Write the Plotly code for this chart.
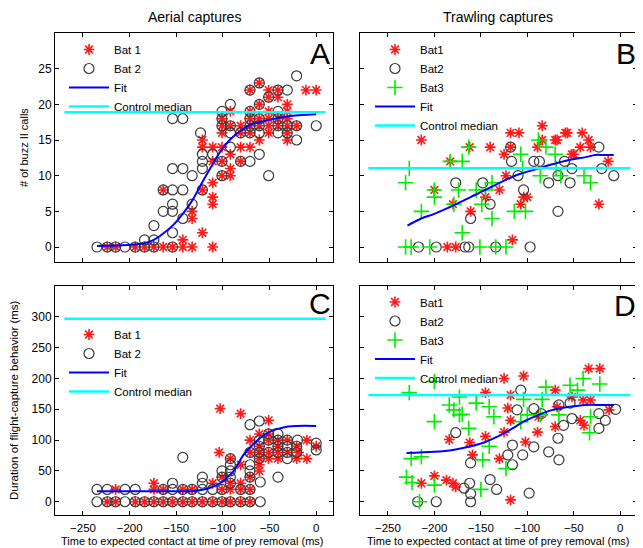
import plotly.graph_objects as go

# ---------------- data ----------------
x_ticks = [-250, -200, -150, -100, -50, 0]
y_ticks_calls = [0, 5, 10, 15, 20, 25]
y_ticks_dur = [0, 50, 100, 150, 200, 250, 300]

# Panel A (aerial, # of buzz II calls)
a_bat1 = [(-224, 0), (-215, 0), (-194, 0), (-184, 0), (-174, 0), (-164, 0), (-154, 0), (-143, 0), (-133, 0), (-111, 0),
          (-143, 1), (-122, 2), (-133, 4), (-133, 5), (-111, 6), (-111, 7), (-164, 8), (-122, 8), (-111, 9),
          (-101, 10), (-92, 10), (-92, 11), (-111, 12), (-101, 12), (-81, 12), (-92, 13),
          (-122, 14), (-111, 14), (-101, 14), (-81, 14), (-71, 14), (-122, 15), (-61, 15), (-31, 15),
          (-101, 16), (-81, 16), (-71, 16), (-51, 16), (-31, 16),
          (-101, 17), (-92, 17), (-81, 17), (-71, 17), (-61, 17), (-51, 17), (-41, 17), (-31, 17), (-21, 17),
          (-101, 18), (-71, 18), (-61, 18), (-51, 18), (-41, 18), (-31, 18),
          (-92, 19), (-71, 19), (-51, 19), (-31, 19), (-61, 20), (-31, 20), (-51, 21), (-41, 21),
          (-71, 22), (-51, 22), (-41, 22), (-11, 22), (0, 22), (-61, 23)]
a_bat2 = [(-235, 0), (-224, 0), (-215, 0), (-205, 0), (-194, 0), (-184, 0), (-174, 0), (-154, 0),
          (-184, 1), (-174, 1), (-154, 2), (-174, 3), (-143, 4), (-164, 5), (-154, 5), (-154, 6), (-133, 6),
          (-164, 8), (-154, 8), (-143, 8), (-122, 8), (-133, 10), (-101, 10), (-51, 10),
          (-154, 11), (-143, 11), (-122, 11), (-122, 12), (-101, 12), (-81, 12), (-71, 12),
          (-122, 13), (-111, 13), (-61, 13), (-92, 14), (-21, 15),
          (-124, 16), (-92, 16), (-81, 16), (-71, 16), (-61, 16), (-41, 16), (-31, 16),
          (-101, 17), (-92, 17), (-71, 17), (-61, 17), (-41, 17), (-31, 17), (-21, 17), (0, 17),
          (-154, 18), (-143, 18), (-101, 18), (-71, 18), (-61, 18), (-41, 18),
          (-101, 19), (-71, 19), (-41, 19), (-92, 20), (-61, 20), (-51, 21),
          (-71, 22), (-41, 22), (-31, 22), (-61, 23), (-21, 24)]
a_fit = [(-235, 0.15), (-215, 0.2), (-194, 0.35), (-184, 0.55), (-174, 1.0), (-164, 1.9), (-154, 3.0),
         (-143, 4.65), (-133, 6.5), (-122, 9.1), (-111, 11.6), (-101, 13.7), (-92, 15.1), (-81, 16.3),
         (-71, 17.1), (-51, 17.8), (-31, 18.3), (0, 18.6)]
a_median = [(-270, 18.9), (10, 18.9)]

# Panel B (trawling, # of buzz II calls)
b_bat1 = [(-214, 15), (-200, 8), (-186, 0), (-177, 0), (-180, 6), (-183, 12), (-162, 14), (-161, 5), (-145, 7),
          (-140, 14), (-130, 8), (-125, 13), (-123, 10), (-118, 14), (-118, 16), (-116, 1), (-109, 16), (-107, 6),
          (-104, 7), (-100, 7), (-89, 14), (-84, 17), (-84, 15), (-70, 15), (-68, 15), (-59, 16), (-57, 16),
          (-52, 13), (-50, 13), (-43, 14), (-41, 16), (-34, 15), (-32, 14), (-23, 6), (-13, 12)]
b_bat2 = [(-217, 0), (-198, 0), (-167, 0), (-163, 0), (-134, 0), (-97, 0), (-177, 9), (-161, 4), (-148, 9),
          (-140, 6), (-118, 14), (-117, 12), (-110, 10), (-104, 8), (-93, 12), (-87, 12), (-77, 9), (-67, 10),
          (-67, 5), (-60, 12), (-54, 9), (-52, 11), (-23, 14), (-20, 11), (-7, 10)]
b_bat3 = [(-231, 9), (-227, 11), (-214, 5), (-200, 7), (-200, 8), (-183, 12), (-170, 12), (-163, 14), (-174, 8),
          (-179, 6), (-170, 2), (-155, 8), (-149, 6), (-145, 8), (-138, 9), (-138, 4), (-114, 5), (-102, 5),
          (-107, 13), (-105, 11), (-88, 15), (-86, 10), (-80, 14), (-70, 13), (-69, 11), (-64, 10), (-39, 10),
          (-32, 9), (-231, 0), (-225, 0), (-205, 0), (-151, 0), (-134, 0), (-123, 0)]
b_fit = [(-229, 3.0), (-214, 4.0), (-200, 4.65), (-180, 5.8), (-161, 7.0), (-145, 8.0), (-125, 9.3),
         (-109, 10.2), (-91, 10.9), (-73, 11.6), (-55, 12.2), (-37, 12.6), (-27, 12.9), (-18, 12.9), (-7, 12.9)]
b_median = [(-271, 11.05), (11, 11.05)]

# Panel C (aerial, duration)
c_bat1 = [(-224, 0), (-215, 0), (-194, 0), (-184, 0), (-174, 0), (-164, 0), (-154, 0), (-143, 0), (-133, 0),
          (-122, 0), (-111, 0), (-101, 0), (-92, 0), (-81, 0), (-71, 0),
          (-215, 20), (-174, 20), (-164, 20), (-143, 20), (-133, 20), (-101, 20), (-92, 20), (-81, 20), (-71, 20),
          (-174, 30), (-111, 30), (-92, 30), (-81, 30), (-101, 40), (-71, 40), (-61, 50), (-81, 60), (-61, 60),
          (-92, 70), (-61, 70), (-51, 70), (-41, 70), (-21, 70), (-10, 70),
          (-104, 80), (-71, 80), (-61, 80), (-51, 80), (-41, 80), (-31, 80), (-19, 80),
          (-61, 90), (-41, 90), (-21, 90), (0, 90), (-71, 100), (-51, 100), (-41, 100), (-31, 100), (-10, 100),
          (-61, 110), (-51, 110), (-51, 132), (-81, 143), (-103, 151)]
c_bat2 = [(-235, 0), (-224, 0), (-215, 0), (-205, 0), (-194, 0), (-184, 0), (-174, 0), (-164, 0), (-154, 0),
          (-143, 0), (-133, 0), (-122, 0), (-111, 0), (-101, 0), (-92, 0), (-81, 0), (-71, 0), (-60, 0),
          (-235, 20), (-224, 20), (-205, 20), (-194, 20), (-164, 20), (-154, 20), (-143, 20), (-133, 20),
          (-122, 20), (-111, 20), (-101, 20), (-81, 20), (-71, 20),
          (-154, 30), (-122, 30), (-92, 30), (-60, 32), (-122, 40), (-101, 40), (-92, 40), (-71, 40), (-41, 40),
          (-101, 50), (-92, 50), (-71, 50), (-92, 60), (-71, 60), (-143, 72), (-92, 70), (-61, 70), (-31, 70),
          (-71, 80), (-61, 80), (-51, 80), (-41, 80), (-31, 80), (-21, 80), (0, 84),
          (-61, 90), (-41, 90), (-31, 90), (-21, 90), (0, 95),
          (-61, 100), (-51, 100), (-41, 100), (-31, 100), (-20, 100), (-51, 110), (-41, 110),
          (-71, 125), (-61, 131)]
c_fit = [(-235, 17), (-200, 17), (-160, 17), (-130, 17.5), (-124, 19), (-115, 22), (-103, 30), (-95, 40),
         (-89, 49), (-85, 58), (-78, 76), (-71, 88), (-65, 97), (-58, 106), (-53, 111), (-45, 117),
         (-39, 119), (-30, 122), (-21, 123), (0, 123)]
c_median = [(-270, 297), (10, 297)]

# Panel D (trawling, duration)
d_bat1 = [(-214, 30), (-200, 42), (-187, 35), (-180, 30), (-177, 24), (-184, 101), (-162, 96), (-159, 76),
          (-145, 177), (-145, 106), (-130, 70), (-125, 200), (-125, 113), (-118, 3), (-118, 173), (-118, 132),
          (-121, 152), (-104, 204), (-102, 97), (-89, 113), (-88, 138), (-70, 181), (-70, 122), (-68, 154),
          (-52, 170), (-43, 132), (-39, 124), (-40, 165), (-32, 165), (-34, 216), (-22, 216), (-12, 149)]
d_bat2 = [(-218, 0), (-198, 0), (-177, 112), (-161, 63), (-168, 22), (-162, 30), (-161, 0), (-161, 13),
          (-140, 36), (-133, 20), (-121, 76), (-116, 92), (-116, 60), (-105, 76), (-107, 181), (-111, 149),
          (-98, 14), (-93, 151), (-93, 89), (-85, 143), (-77, 81), (-67, 103), (-66, 68), (-66, 157),
          (-61, 124), (-54, 160), (-52, 135), (-23, 143), (-23, 119), (-16, 132), (-5, 150)]
d_bat3 = [(-227, 177), (-230, 40), (-224, 31), (-225, 70), (-214, 73), (-216, 0), (-200, 195), (-200, 130),
          (-200, 27), (-184, 157), (-179, 149), (-173, 141), (-173, 170), (-170, 142), (-163, 119), (-155, 160),
          (-150, 20), (-148, 68), (-141, 154), (-141, 90), (-136, 138), (-123, 54), (-107, 130), (-104, 166),
          (-100, 141), (-86, 141), (-84, 166), (-80, 186), (-66, 141), (-54, 189), (-46, 181), (-40, 200),
          (-33, 112), (-32, 138), (-22, 191)]
d_fit = [(-230, 79), (-200, 81), (-180, 84), (-161, 90), (-145, 97), (-129, 108), (-116, 119), (-104, 130),
         (-91, 139), (-73, 149), (-55, 154), (-37, 157), (-20, 157), (-7, 157)]
d_median = [(-271, 173), (11, 173)]

# ---------------- styling ----------------
FONT = "Arial, Liberation Sans, sans-serif"
OFF = 8                     # page body margin of the browser
W, H = 643 - OFF, 548 - OFF
RED = "#ff1a1a"
GREY = "#3a3a3a"
GREEN = "#00ee00"
BLUE = "#0000ff"
CYAN = "#00ffff"


def px_x(p):
    return (p - OFF) / W


def px_y(p):
    return 1 - (p - OFF) / H


fig = go.Figure()


def xy(pts):
    return [p[0] for p in pts], [p[1] for p in pts]


def add_panel(idx, legend, bat1, bat2, bat3, fit, median, names):
    xa = "x" if idx == 1 else f"x{idx}"
    ya = "y" if idx == 1 else f"y{idx}"
    x, y = xy(bat1)
    fig.add_trace(go.Scatter(x=x, y=y, mode="markers", name=names[0], xaxis=xa, yaxis=ya, legend=legend,
                             marker=dict(symbol="asterisk-open", size=9, color=RED, line=dict(color=RED, width=1.6))))
    x, y = xy(bat2)
    fig.add_trace(go.Scatter(x=x, y=y, mode="markers", name=names[1], xaxis=xa, yaxis=ya, legend=legend,
                             marker=dict(symbol="circle-open", size=10, color=GREY, line=dict(color=GREY, width=1.2))))
    if bat3 is not None:
        x, y = xy(bat3)
        fig.add_trace(go.Scatter(x=x, y=y, mode="markers", name=names[2], xaxis=xa, yaxis=ya, legend=legend,
                                 marker=dict(symbol="cross-thin-open", size=11, color=GREEN,
                                             line=dict(color=GREEN, width=1.6))))
    x, y = xy(fit)
    fig.add_trace(go.Scatter(x=x, y=y, mode="lines", name="Fit", xaxis=xa, yaxis=ya, legend=legend,
                             line=dict(color=BLUE, width=2, shape="spline")))
    x, y = xy(median)
    fig.add_trace(go.Scatter(x=x, y=y, mode="lines", name="Control median", xaxis=xa, yaxis=ya, legend=legend,
                             line=dict(color=CYAN, width=2.5)))


add_panel(1, "legend", a_bat1, a_bat2, None, a_fit, a_median, ["Bat 1", "Bat 2"])
add_panel(2, "legend2", b_bat1, b_bat2, b_bat3, b_fit, b_median, ["Bat1", "Bat2", "Bat3"])
add_panel(3, "legend3", c_bat1, c_bat2, None, c_fit, c_median, ["Bat 1", "Bat 2"])
add_panel(4, "legend4", d_bat1, d_bat2, d_bat3, d_fit, d_median, ["Bat1", "Bat2", "Bat3"])

left_dom = [px_x(55), px_x(333)]
right_dom = [px_x(360), px_x(637)]
top_dom = [px_y(262), px_y(33)]
bot_dom = [px_y(515), px_y(286)]

axis_common = dict(showline=True, linecolor="black", linewidth=1, mirror="ticks", ticks="inside", ticklen=4,
                   tickcolor="black", showgrid=False, zeroline=False)
tick_font = dict(family=FONT, size=11.5, color="black")

layout_axes = {}
for i, (xd, yd, yr, yt, showx, showy) in enumerate([
        (left_dom, top_dom, [-2.1, 30], y_ticks_calls, False, True),
        (right_dom, top_dom, [-2.1, 30], y_ticks_calls, False, False),
        (left_dom, bot_dom, [-21.5, 350], y_ticks_dur, True, True),
        (right_dom, bot_dom, [-21.5, 350], y_ticks_dur, True, False)], start=1):
    xn = "xaxis" if i == 1 else f"xaxis{i}"
    yn = "yaxis" if i == 1 else f"yaxis{i}"
    ya = "y" if i == 1 else f"y{i}"
    xa = "x" if i == 1 else f"x{i}"
    layout_axes[xn] = dict(domain=xd, range=[-280, 18], tickvals=x_ticks, showticklabels=showx, anchor=ya,
                           ticklabelstandoff=2, tickfont=tick_font, **axis_common)
    layout_axes[yn] = dict(domain=yd, range=yr, tickvals=yt, showticklabels=showy, anchor=xa,
                           tickfont=dict(family=FONT, size=12, color="black"), **axis_common)

leg_common = dict(bgcolor="rgba(0,0,0,0)", borderwidth=0, font=dict(family=FONT, size=11.5, color="black"),
                  xanchor="left", yanchor="top", tracegroupgap=0, itemwidth=40)

fig.update_layout(
    width=W, height=H, margin=dict(l=0, r=0, t=0, b=0),
    paper_bgcolor="white", plot_bgcolor="white",
    showlegend=True,
    legend=dict(x=px_x(64), y=px_y(35), **leg_common),
    legend2=dict(x=px_x(370), y=px_y(35), **leg_common),
    legend3=dict(x=px_x(64), y=px_y(320), **leg_common),
    legend4=dict(x=px_x(370), y=px_y(287.5), **leg_common),
    **layout_axes,
)

ann = [
    dict(text="Aerial captures", x=px_x(194), y=px_y(17), size=14, angle=0),
    dict(text="Trawling captures", x=px_x(498), y=px_y(17), size=14, angle=0),
    dict(text="A", x=px_x(320), y=px_y(53), size=30, angle=0),
    dict(text="B", x=px_x(626), y=px_y(53), size=30, angle=0),
    dict(text="C", x=px_x(320), y=px_y(303), size=30, angle=0),
    dict(text="D", x=px_x(625), y=px_y(305), size=30, angle=0),
    dict(text="# of buzz II calls", x=px_x(24), y=px_y(148), size=11, angle=-90),
    dict(text="Duration of flight-capture behavior (ms)", x=px_x(14), y=px_y(400), size=11.5, angle=-90),
    dict(text="Time to expected contact at time of prey removal (ms)", x=px_x(192), y=px_y(540.5), size=11, angle=0),
    dict(text="Time to expected contact at time of prey removal (ms)", x=px_x(498), y=px_y(540.5), size=11, angle=0),
]
for a in ann:
    fig.add_annotation(text=a["text"], x=a["x"], y=a["y"], xref="paper", yref="paper", showarrow=False,
                       xanchor="center", yanchor="middle", textangle=a["angle"],
                       font=dict(family=FONT, size=a["size"], color="black"))

fig.write_html("out.html")
